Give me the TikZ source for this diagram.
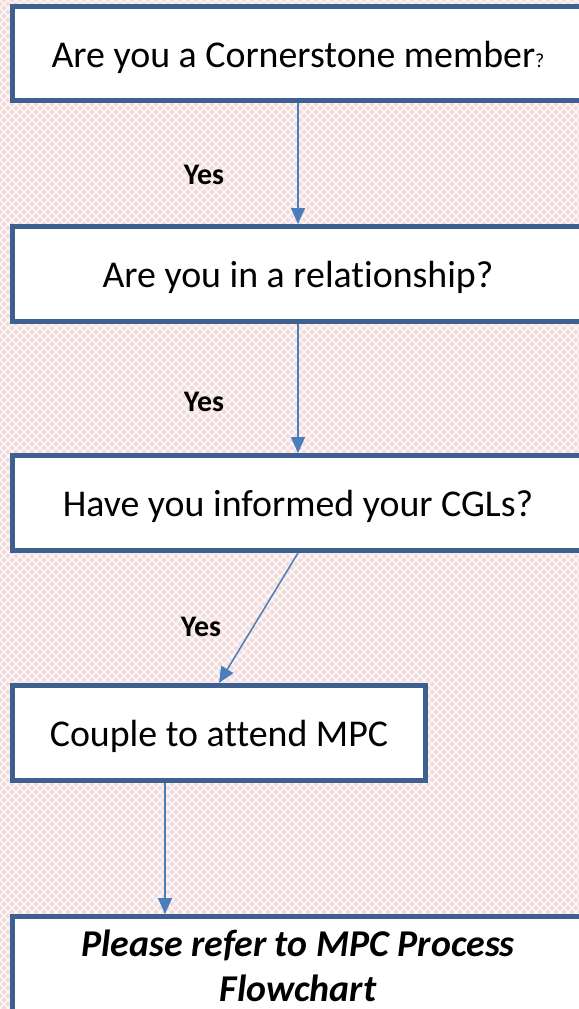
\documentclass[tikz,border=0pt]{standalone}
\usepackage{fontspec}
\setmainfont{Carlito}[Ligatures=NoCommon]
\usetikzlibrary{arrows.meta}
\definecolor{boxblue}{RGB}{62,96,145}
\definecolor{arrowblue}{RGB}{74,126,187}
\definecolor{bgpink}{RGB}{243,219,221}
\begin{document}
\begin{tikzpicture}[x=1bp,y=-1bp,qbox/.style={draw=boxblue,line width=5bp,fill=white,rectangle,minimum height=94bp,inner sep=0pt,text height=27bp,text depth=0bp,font=\fontsize{38}{45}\selectfont},wbox/.style={qbox,minimum width=571bp},yes/.style={font=\fontsize{30}{34}\selectfont\bfseries},arr/.style={draw=arrowblue,line width=1.5bp,-{Triangle[width=14bp,length=16bp]}}]
\useasboundingbox (0,0) rectangle (579,1009);
\clip (0,0) rectangle (579,1009);
\fill[bgpink] (0,0) rectangle (579,1009);
\foreach \k in {-1016,-1008,...,584}
  \draw[white,opacity=0.7,line width=1.6bp] (\k,0) -- (\k+1009,1009);
\foreach \k in {0,8,...,1600}
  \draw[white,opacity=0.7,line width=1.6bp] (\k,0) -- (\k-1009,1009);

\node[wbox] (q1) at (298,53.5) {Are you a Cornerstone member{\fontsize{20}{24}\selectfont ?}};
\node[wbox,minimum height=95bp] (q2) at (298,274) {Are you in a relationship?};
\node[wbox,minimum height=95bp] (q3) at (298,503) {Have you informed your CGLs?};
\node[qbox,minimum width=413bp,minimum height=95bp] (q4) at (219,733) {Couple to attend MPC};
\node[wbox,minimum height=99bp,text height=,text depth=,align=center,font=\fontsize{38}{45}\selectfont\bfseries\itshape] (q5) at (298,966) {Please refer to MPC Process\\Flowchart};

\node[yes] (y1) at (204,175) {Yes};
\node[yes] (y2) at (204,402) {Yes};
\node[yes] (y3) at (201,627) {Yes};

\coordinate (a4) at ([xshift=-54bp]q4.south);
\draw[arr] (q1.south) -- (q2.north);
\draw[arr] (q2.south) -- (q3.north);
\draw[arr] (q3.south) -- (q4.north);
\draw[arr] (a4) -- (a4 |- q5.north);
\end{tikzpicture}
\end{document}
